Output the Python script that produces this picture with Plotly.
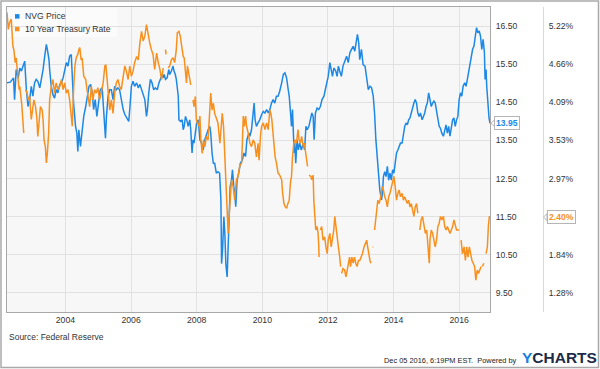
import pandas as pd
import plotly.graph_objects as go

# ---------------- data (decimal years) ----------------
nvg_t = [
    2002.22, 2002.32, 2002.42, 2002.45, 2002.50, 2002.56, 2002.61, 2002.66, 2002.71, 2002.76,
    2002.81, 2002.86, 2002.91, 2002.96, 2003.01, 2003.06, 2003.11, 2003.16, 2003.22, 2003.27,
    2003.32, 2003.37, 2003.42, 2003.45, 2003.50, 2003.52, 2003.57, 2003.62, 2003.67, 2003.72,
    2003.77, 2003.83, 2003.88, 2003.93, 2003.98, 2004.03, 2004.08, 2004.13, 2004.18, 2004.21,
    2004.25, 2004.31, 2004.35, 2004.38, 2004.41, 2004.46, 2004.52, 2004.56, 2004.62, 2004.67,
    2004.72, 2004.77, 2004.82, 2004.86, 2004.91, 2004.96, 2005.01, 2005.06, 2005.12, 2005.17,
    2005.22, 2005.25, 2005.30, 2005.35, 2005.40, 2005.45, 2005.50, 2005.55, 2005.60, 2005.65,
    2005.70, 2005.76,
    2005.81, 2005.89, 2005.93, 2005.96, 2006.01, 2006.06, 2006.11, 2006.17, 2006.22, 2006.27,
    2006.32, 2006.37, 2006.42, 2006.47, 2006.50, 2006.54, 2006.59, 2006.64, 2006.69, 2006.74,
    2006.80, 2006.85, 2006.90, 2006.95, 2006.98, 2007.01, 2007.05, 2007.10, 2007.15, 2007.18,
    2007.23, 2007.28, 2007.31, 2007.35, 2007.38, 2007.44, 2007.46, 2007.51, 2007.56, 2007.59,
    2007.62, 2007.66, 2007.71, 2007.74, 2007.79, 2007.82, 2007.86, 2007.89, 2007.92, 2007.96,
    2008.00, 2008.05, 2008.10, 2008.15, 2008.20, 2008.25, 2008.30, 2008.35, 2008.40, 2008.43,
    2008.47, 2008.51, 2008.55, 2008.60, 2008.65, 2008.70, 2008.74, 2008.76, 2008.79, 2008.83,
    2008.86, 2008.89, 2008.93, 2008.98, 2009.02, 2009.06, 2009.09, 2009.13, 2009.16, 2009.19,
    2009.23, 2009.28, 2009.33, 2009.39, 2009.44, 2009.49, 2009.53, 2009.59,
    2009.62, 2009.67, 2009.72, 2009.75, 2009.78, 2009.82, 2009.87, 2009.92, 2009.98, 2010.03,
    2010.08, 2010.13, 2010.18, 2010.23, 2010.28, 2010.33, 2010.38, 2010.43, 2010.48, 2010.53,
    2010.59, 2010.64, 2010.69, 2010.74, 2010.79, 2010.82, 2010.86, 2010.89, 2010.92, 2010.94,
    2010.97, 2010.99, 2011.02, 2011.06, 2011.10, 2011.14, 2011.19, 2011.25, 2011.29, 2011.33,
    2011.37, 2011.42, 2011.47, 2011.51, 2011.55, 2011.58, 2011.62, 2011.67, 2011.72, 2011.77,
    2011.82, 2011.88, 2011.92, 2011.96, 2012.01, 2012.06, 2012.10, 2012.14, 2012.18, 2012.24,
    2012.28, 2012.32, 2012.36, 2012.41, 2012.46, 2012.52, 2012.57, 2012.62, 2012.67, 2012.72,
    2012.77, 2012.82, 2012.87, 2012.90, 2012.94, 2012.97, 2013.02, 2013.07, 2013.13, 2013.18,
    2013.23,
    2013.28, 2013.33, 2013.38, 2013.42, 2013.46, 2013.50, 2013.54, 2013.58, 2013.63, 2013.66,
    2013.69, 2013.73, 2013.77, 2013.81, 2013.85, 2013.89, 2013.93, 2013.97, 2014.01, 2014.05,
    2014.09, 2014.13, 2014.17, 2014.21, 2014.26, 2014.30, 2014.34, 2014.38, 2014.42, 2014.46,
    2014.50, 2014.54, 2014.58, 2014.62, 2014.66, 2014.70, 2014.74, 2014.78, 2014.82, 2014.87,
    2014.91, 2014.95, 2014.99, 2015.03, 2015.07, 2015.11, 2015.15, 2015.19, 2015.23, 2015.27,
    2015.31, 2015.35, 2015.39, 2015.43, 2015.47, 2015.52, 2015.56, 2015.60, 2015.64, 2015.68,
    2015.72, 2015.76, 2015.80, 2015.84, 2015.88, 2015.92, 2015.96, 2016.00, 2016.04, 2016.08,
    2016.12, 2016.17, 2016.21, 2016.25, 2016.29, 2016.33, 2016.37, 2016.41, 2016.45, 2016.49,
    2016.53, 2016.57, 2016.61, 2016.65, 2016.69, 2016.73, 2016.77, 2016.79, 2016.82, 2016.84,
    2016.88, 2016.91, 2016.94,
]
nvg_price = [
    15.01, 15.03, 15.14, 14.57, 15.36, 15.14, 15.40, 15.32, 15.45, 15.58,
    14.83, 14.39, 14.57, 14.92, 14.66, 15.01, 15.10, 15.05, 14.88, 15.10,
    15.36, 15.71, 16.02, 15.89, 15.62, 15.36, 14.92, 14.70, 14.61, 14.83,
    14.75, 14.97, 15.01, 15.14, 15.36, 15.54, 15.45, 15.71, 15.75, 15.18,
    14.48, 13.87, 13.69, 13.21, 13.78, 13.34, 13.87, 14.13, 14.39, 14.66,
    14.92, 14.97, 14.75, 14.31, 14.57, 14.13, 14.57, 14.83, 14.88, 14.31,
    13.56, 14.13, 14.66, 14.83, 14.83, 14.57, 14.92, 14.83, 14.88, 14.83,
    14.57, 14.31,
    14.18, 14.04, 14.00, 14.31, 14.92, 15.05, 14.92, 15.01, 14.88, 14.97,
    14.83, 14.66, 14.57, 14.13, 14.31, 14.75, 15.10, 15.01, 14.83, 14.88,
    14.83, 15.01, 15.10, 15.23, 15.14, 15.23, 15.10, 15.14, 15.36, 15.23,
    15.32, 15.45, 15.32, 15.23, 15.10, 14.66, 14.04, 14.00, 14.04, 13.78,
    13.87, 14.13, 14.00, 13.87, 14.04, 13.78, 13.17, 13.52, 13.43, 13.69,
    13.96, 14.04, 13.52, 13.43, 13.25, 13.52, 13.69, 13.78, 13.87, 13.69,
    13.17, 12.90, 12.90, 12.64, 12.68, 12.64, 11.94, 10.27, 10.62, 11.50,
    11.06, 10.27, 9.92, 11.59, 12.29, 12.46, 12.73, 12.29, 12.11, 11.76,
    12.46, 12.64, 12.90, 12.99, 13.17, 13.08, 13.52, 13.69,
    13.61, 13.78, 14.22, 14.48, 14.04, 13.87, 13.96, 14.04, 14.18, 14.26,
    14.22, 14.31, 14.22, 14.31, 14.48, 14.57, 14.48, 14.66, 14.66, 14.79,
    15.01, 15.23, 15.27, 15.14, 14.83, 14.66, 14.22, 13.87, 14.31, 13.87,
    13.17, 13.43, 12.90, 13.52, 13.25, 13.43, 13.25, 13.43, 13.25, 13.87,
    13.78, 13.87, 14.04, 14.22, 14.13, 13.52, 14.22, 14.35, 14.31, 14.39,
    14.57, 14.66, 14.83, 15.01, 15.18, 15.54, 15.36, 15.18, 15.40, 15.32,
    15.18, 15.45, 15.32, 15.18, 15.45, 15.62, 15.71, 15.54, 15.80, 15.89,
    15.97, 15.84, 16.15, 16.28, 16.06, 15.62, 15.89, 15.49, 15.45, 15.18,
    14.83,
    14.92, 14.88, 14.66, 14.22, 13.52, 12.99, 12.55, 12.20, 11.94, 12.11,
    12.55, 12.68, 12.55, 12.82, 12.46, 12.64, 12.46, 12.73, 12.64, 12.99,
    13.17, 13.25, 13.34, 13.43, 13.43, 13.69, 13.87, 13.96, 13.91, 14.04,
    14.09, 14.22, 14.39, 14.48, 14.57, 14.48, 14.22, 14.13, 14.22, 14.04,
    14.13, 14.22, 14.39, 14.48, 14.75, 14.57, 14.39, 14.48, 14.53, 14.48,
    14.31, 14.04, 13.87, 13.82, 13.69, 13.61, 13.78, 13.91, 13.69, 13.87,
    13.61, 13.87, 14.04, 14.09, 13.87, 14.04, 14.13, 14.57, 14.75, 14.66,
    14.92, 15.01, 14.92, 15.10, 15.32, 15.45, 15.71, 15.89, 15.97, 16.24,
    16.46, 16.32, 16.37, 16.24, 15.89, 16.15, 15.80, 15.10, 15.36, 14.92,
    14.39, 14.09, 13.95,
]

ust_t = [
    2002.22, 2002.26, 2002.30, 2002.35, 2002.40, 2002.43, 2002.47, 2002.50, 2002.56, 2002.59,
    2002.61, 2002.64, 2002.67, 2002.73, 2002.76, 2002.79, 2002.83, 2002.87, 2002.91, 2002.96,
    2003.01, 2003.04, 2003.09, 2003.13, 2003.16, 2003.20, 2003.24, 2003.29, 2003.32, 2003.35,
    2003.39, 2003.42, 2003.45, 2003.49, 2003.52, 2003.57, 2003.62, 2003.67, 2003.72, 2003.77,
    2003.83, 2003.88, 2003.93, 2003.98, 2004.03, 2004.08, 2004.13, 2004.18, 2004.21, 2004.25,
    2004.29, 2004.33, 2004.38, 2004.41, 2004.44, 2004.48, 2004.51, 2004.56, 2004.62, 2004.66,
    2004.70, 2004.74, 2004.79, 2004.84, 2004.89, 2004.94, 2004.99, 2005.04, 2005.09, 2005.15,
    2005.20, 2005.23, 2005.27, 2005.31, 2005.35, 2005.40, 2005.45, 2005.50, 2005.55, 2005.60,
    2005.65, 2005.70, 2005.76,
    2005.81, 2005.86, 2005.91, 2005.96, 2006.01, 2006.06, 2006.11, 2006.17, 2006.22, 2006.27,
    2006.32, 2006.37, 2006.42, 2006.47, 2006.52, 2006.57, 2006.62, 2006.67, 2006.72, 2006.78,
    2006.83, 2006.88, 2006.93, 2006.98, 2007.02, 2007.05, 2007.07, 2007.10, 2007.13, 2007.18,
    2007.23, 2007.28, 2007.33, 2007.38, 2007.41, 2007.46, 2007.50, 2007.54, 2007.59, 2007.62,
    2007.66, 2007.69, 2007.72, 2007.74, 2007.79, 2007.82, 2007.85, 2007.89, 2007.92, 2007.96,
    2007.99, 2008.02, 2008.07, 2008.10, 2008.13, 2008.17, 2008.21, 2008.25, 2008.30, 2008.35,
    2008.40, 2008.43, 2008.47, 2008.51, 2008.55, 2008.60, 2008.65, 2008.71, 2008.74, 2008.78,
    2008.82, 2008.86, 2008.89, 2008.92, 2008.96, 2008.99, 2009.03, 2009.06, 2009.11, 2009.16,
    2009.21, 2009.26, 2009.31, 2009.37, 2009.42, 2009.45, 2009.49, 2009.52, 2009.57,
    2009.62, 2009.67, 2009.72, 2009.77, 2009.82, 2009.87, 2009.90, 2009.95, 2009.98, 2010.03,
    2010.08, 2010.13, 2010.18, 2010.23, 2010.26, 2010.29, 2010.33, 2010.36, 2010.39, 2010.43,
    2010.48, 2010.53, 2010.59, 2010.62, 2010.66, 2010.70, 2010.74, 2010.78, 2010.82, 2010.86,
    2010.89, 2010.92, 2010.96, 2011.00, 2011.04, 2011.09, 2011.12, 2011.16, 2011.20, 2011.25,
    2011.28, 2011.31, 2011.35, 2011.38, 2011.40, 2011.43, 2011.48, 2011.51, 2011.55, 2011.57,
    2011.60, 2011.63, 2011.67, 2011.70, 2011.72, 2011.73, 2011.75, 2011.77, 2011.81, 2011.85,
    2011.90, 2011.94, 2011.98, 2012.01, 2012.06, 2012.10, 2012.14, 2012.18, 2012.21, 2012.24,
    2012.28, 2012.32, 2012.36, 2012.39, 2012.40, 2012.42, 2012.46, 2012.51, 2012.55, 2012.59,
    2012.63, 2012.66, 2012.69, 2012.73, 2012.77, 2012.81, 2012.85, 2012.89, 2012.93, 2012.97,
    2013.01, 2013.05, 2013.10, 2013.15, 2013.18, 2013.21, 2013.24,
    2013.28, 2013.31, 2013.33, 2013.36, 2013.38, 2013.40, 2013.42, 2013.45, 2013.48, 2013.52,
    2013.56, 2013.61, 2013.65, 2013.69, 2013.73, 2013.77, 2013.81, 2013.85, 2013.89, 2013.93,
    2013.97, 2014.01, 2014.05, 2014.09, 2014.13, 2014.17, 2014.21, 2014.26, 2014.30, 2014.34,
    2014.38, 2014.42, 2014.46, 2014.50, 2014.54, 2014.58, 2014.62, 2014.66, 2014.70, 2014.74,
    2014.77, 2014.80, 2014.84, 2014.88, 2014.93, 2014.97, 2015.01, 2015.05, 2015.09, 2015.11,
    2015.15, 2015.19, 2015.23, 2015.27, 2015.31, 2015.35, 2015.39, 2015.43, 2015.47, 2015.52,
    2015.56, 2015.60, 2015.64, 2015.68, 2015.72, 2015.76, 2015.80, 2015.84, 2015.88, 2015.92,
    2015.96, 2016.00, 2016.03, 2016.06, 2016.10, 2016.15, 2016.19, 2016.23, 2016.27, 2016.31,
    2016.35, 2016.39, 2016.43, 2016.47, 2016.51, 2016.55, 2016.59, 2016.63, 2016.67, 2016.69,
    2016.71, 2016.75, 2016.78, 2016.82, 2016.86, 2016.89, 2016.92, 2016.94,
]
ust_rate = [
    5.42, 5.17, 5.27, 5.32, 4.92, 4.87, 4.68, 4.75, 4.43, 4.28,
    4.33, 4.23, 4.06, 3.64, None, 4.28, 4.23, 4.13, 4.18, 3.84,
    3.98, 4.13, 4.03, 3.86, 3.59, 3.89, 4.03, 3.98, 3.84, 3.54,
    3.44, 3.20, 3.34, 3.64, 4.13, 4.33, 4.43, 4.23, 4.38, 4.28,
    4.33, 4.43, 4.28, 4.38, 4.23, 4.28, 4.13, 3.89, 3.74, 4.28,
    4.63, 4.75, 4.80, 4.87, 4.90, 4.72, 4.75, 4.48, 4.43, 4.28,
    4.13, 4.03, 4.33, 4.13, 4.28, 4.23, 4.31, 4.13, 4.23, 4.38,
    4.63, 4.65, 4.43, 4.13, 3.98, 4.13, 3.93, 4.23, 4.38, 4.43,
    4.33, 4.28, 4.48,
    4.63, 4.55, 4.43, 4.63, 4.48, 4.55, 4.68, 4.77, 4.72, 4.97,
    5.14, 5.00, 5.07, 5.24, 5.09, 4.97, 4.87, 4.80, 4.58, 4.82,
    4.68, 4.58, 4.43, 4.60, None, 4.87, 4.80, None, 4.60, 4.63,
    4.72, 4.75, 4.68, 4.87, 5.12, 5.14, 5.07, 4.92, 4.77, 4.75,
    4.58, 4.38, 4.63, 4.58, 4.48, 4.35, None, 4.13, 4.03, 4.18,
    3.84, 3.79, 3.74, 3.89, 3.54, 3.34, 3.54, 3.44, 3.59, 3.54,
    3.98, 4.23, 3.98, 4.08, 3.93, 3.84, 3.79, 3.49, 3.64, 3.93,
    3.74, 3.29, 2.85, 2.55, 2.16, 2.41, 2.75, 2.95, 2.85, 2.65,
    2.95, 3.00, 3.15, 3.20, 3.89, 3.74, 3.89, 3.74, 3.64,
    3.49, 3.44, 3.54, 3.49, 3.29, 3.49, 3.24, 3.64, 3.74, 3.79,
    3.69, 3.79, 3.69, 3.98, 3.93, 3.84, 3.59, 3.49, 3.29, 3.20,
    3.05, 3.02, 2.95, 2.75, 2.60, 2.55, 2.53, 2.60, 2.65, 2.92,
    3.00, 3.29, 3.49, 3.54, 3.49, 3.69, 3.54, 3.49, 3.59, 3.44,
    3.49, 3.39, 3.20, 3.15, None, 3.02, 3.00, 2.95, 3.02, 2.65,
    2.36, 2.21, 2.26, 2.16, 1.99, 1.81, None, 2.21, 2.26, 2.06,
    2.11, 1.96, 1.86, 2.06, 2.16, 1.96, 2.06, 2.21, 2.41, 2.26,
    2.06, 1.96, 1.81, 1.67, None, 1.57, 1.64, 1.62, 1.52, 1.62,
    1.72, 1.81, 1.67, 1.81, 1.72, 1.81, 1.72, 1.67, 1.76, 1.76,
    1.81, 1.86, 1.96, 2.01, 2.06, 1.96, 1.86,
    1.76, 1.72, None, 1.96, 1.96, None, 2.21, 2.36, 2.55, 2.65,
    2.60, 2.70, 2.85, 2.80, 2.70, 2.65, 2.55, 2.70, 2.75, 2.85,
    2.95, 3.00, 2.85, 2.65, 2.75, 2.80, 2.70, 2.75, 2.65, 2.70,
    2.65, 2.60, 2.65, 2.55, 2.60, 2.50, 2.41, 2.55, 2.60, 2.46,
    None, 2.21, 2.36, 2.41, 2.26, 2.16, 2.21, 1.96, 1.72, 2.06,
    2.21, 2.16, 2.06, 1.96, 2.06, 2.26, 2.31, 2.41, 2.36, 2.41,
    2.26, 2.21, 2.26, 2.21, 2.16, 2.21, 2.26, 2.36, 2.26, 2.21,
    2.21, 2.21, None, 2.06, 1.86, 1.96, 1.76, 1.96, 1.81, 1.96,
    1.86, 1.76, 1.72, 1.67, 1.47, 1.62, 1.57, 1.62, 1.67, None,
    1.67, 1.72, None, 1.86, 1.96, 2.26, 2.41, 2.40,
]

series_names = ["NVG Price", "10 Year Treasury Rate"]
price_ticks = [9.5, 10.5, 11.5, 12.5, 13.5, 14.5, 15.5, 16.5]
price_tick_labels = ["9.50", "10.50", "11.50", "12.50", "13.50", "14.50", "15.50", "16.50"]
rate_tick_labels = ["1.28%", "1.84%", "2.41%", "2.97%", "3.53%", "4.09%", "4.66%", "5.22%"]
x_tick_years = [2004, 2006, 2008, 2010, 2012, 2014, 2016]

assert len(nvg_t) == len(nvg_price)
assert len(ust_t) == len(ust_rate)

# ---------------- helpers ----------------
def to_dates(years):
    out = []
    for y in years:
        base = int(y)
        out.append(pd.Timestamp(base, 1, 1) + pd.Timedelta(days=(y - base) * 365.25))
    return out

W, H = 600, 369
ML, MR, MT, MB = 7, 7, 7, 57
PW = W - ML - MR
PH = H - MT - MB


def px(x):
    return (x - ML) / PW


def py(y):
    return (MT + PH - y) / PH


PRICE_RANGE = [9.0, 17.0]
RATE_RANGE = [1.0, 5.5]
scale = (RATE_RANGE[1] - RATE_RANGE[0]) / (PRICE_RANGE[1] - PRICE_RANGE[0])
rate_ticks = [RATE_RANGE[0] + (p - PRICE_RANGE[0]) * scale for p in price_ticks]

BLUE = "#1e88e5"
ORANGE = "#f7901e"
GRID = "#e1e1e1"
FRAME = "#a8a8a8"
TXT = "#333333"
FONT = "Liberation Sans, Arial, sans-serif"

nvg_dates = to_dates(nvg_t)
ust_dates = to_dates(ust_t)
x_end = px(490)

fig = go.Figure()
fig.add_trace(go.Scatter(x=nvg_dates, y=nvg_price, mode="lines", name=series_names[0],
                         line=dict(color=BLUE, width=1.5), yaxis="y", showlegend=False))
fig.add_trace(go.Scatter(x=ust_dates, y=ust_rate, mode="lines", name=series_names[1],
                         line=dict(color=ORANGE, width=1.5), yaxis="y2", connectgaps=False,
                         showlegend=False))

shapes = []
annotations = []

# outer frame
shapes.append(dict(type="rect", xref="paper", yref="paper", x0=px(1), x1=px(598.5),
                   y0=py(367.5), y1=py(1), line=dict(color="#a9a9a9", width=1.5),
                   fillcolor="rgba(0,0,0,0)", layer="above"))

# legend (drawn manually for compact YCharts-like layout)
shapes.append(dict(type="rect", xref="paper", yref="paper", x0=px(8), x1=px(117),
                   y0=py(37), y1=py(8), line=dict(width=0),
                   fillcolor="rgba(255,255,255,0.55)", layer="below"))
legend_colors = [BLUE, ORANGE]
legend_rows = [16.3, 29.0]
for name, col, ry in zip(series_names, legend_colors, legend_rows):
    shapes.append(dict(type="rect", xref="paper", yref="paper", x0=px(15), x1=px(19.5),
                       y0=py(ry + 2.3), y1=py(ry - 2.2), line=dict(width=0), fillcolor=col))
    annotations.append(dict(text=name, xref="paper", yref="paper", x=px(22.5), y=py(ry),
                            xanchor="left", yanchor="middle", showarrow=False,
                            font=dict(family=FONT, size=8.6, color=TXT)))

# last-value callouts
last_price = nvg_price[-1]
last_rate = [v for v in ust_rate if v is not None][-1]
annotations.append(dict(text="<b>%.2f</b>" % last_price, xref="paper", yref="y",
                        x=px(494), y=last_price, xanchor="left", yanchor="middle",
                        showarrow=False, font=dict(family=FONT, size=8.6, color=BLUE),
                        bgcolor="white", bordercolor="#b5b5b5", borderwidth=1, borderpad=1))
annotations.append(dict(text="<b>%.2f%%</b>" % last_rate, xref="paper", yref="y2",
                        x=px(546.5), y=last_rate, xanchor="left", yanchor="middle",
                        showarrow=False, font=dict(family=FONT, size=8.6, color=ORANGE),
                        bgcolor="white", bordercolor="#b5b5b5", borderwidth=1, borderpad=1))
# small pointers of the callouts
dp = 0.09
shapes.append(dict(type="path", xref="paper", yref="y",
                   path="M %f,%f L %f,%f L %f,%f Z" % (px(491), last_price, px(494.5), last_price + dp,
                                                       px(494.5), last_price - dp),
                   fillcolor="white", line=dict(color="#b5b5b5", width=1)))
dr = dp * scale
shapes.append(dict(type="path", xref="paper", yref="y2",
                   path="M %f,%f L %f,%f L %f,%f Z" % (px(543.5), last_rate, px(547), last_rate + dr,
                                                       px(547), last_rate - dr),
                   fillcolor="white", line=dict(color="#b5b5b5", width=1)))

# footer
annotations.append(dict(text="Source: Federal Reserve", xref="paper", yref="paper",
                        x=px(7), y=py(337), xanchor="left", yanchor="middle", showarrow=False,
                        font=dict(family=FONT, size=8.5, color=TXT)))
annotations.append(dict(text="Dec 05 2016, 6:19PM EST.  Powered by", xref="paper", yref="paper",
                        x=px(518.5), y=py(360), xanchor="right", yanchor="middle", showarrow=False,
                        font=dict(family=FONT, size=7.4, color="#222222")))
annotations.append(dict(text="<b><span style='color:#1b7fe0'>Y</span>CHARTS</b>", xref="paper",
                        yref="paper", x=px(519.5), y=py(357.5), xanchor="left", yanchor="middle",
                        showarrow=False, font=dict(family=FONT, size=15.5, color="#1c2b48")))

fig.update_layout(
    width=W, height=H,
    margin=dict(l=ML, r=MR, t=MT, b=MB, pad=0),
    paper_bgcolor="white",
    plot_bgcolor="#f7f7f7",
    font=dict(family=FONT, size=8.6, color=TXT),
    showlegend=False,
    xaxis=dict(domain=[0, x_end], type="date",
               range=[min(nvg_dates), max(nvg_dates)],
               tickvals=[pd.Timestamp(y, 1, 1) for y in x_tick_years],
               ticktext=[str(y) for y in x_tick_years],
               showgrid=True, gridcolor=GRID, gridwidth=1,
               showline=True, linecolor=FRAME, linewidth=1, mirror=True,
               ticks="", zeroline=False, tickfont=dict(size=8.7, color=TXT)),
    yaxis=dict(range=PRICE_RANGE, side="right", tickvals=price_ticks, ticktext=price_tick_labels,
               showgrid=True, gridcolor=GRID, gridwidth=1,
               showline=True, linecolor=FRAME, linewidth=1, mirror=True,
               ticks="", zeroline=False, tickfont=dict(size=8.6, color=TXT), ticklabelstandoff=3),
    yaxis2=dict(range=RATE_RANGE, overlaying="y", side="right", anchor="free", position=px(543),
                tickvals=rate_ticks, ticktext=rate_tick_labels, showgrid=False,
                showline=True, linecolor="#d9d9d9", linewidth=1,
                ticks="", zeroline=False, tickfont=dict(size=8.6, color=TXT), ticklabelstandoff=3),
    shapes=shapes,
    annotations=annotations,
)

fig.write_html(
    "out.html",
    config={"displayModeBar": False},
    post_script="document.body.style.margin='0';document.body.style.overflow='hidden';",
)
